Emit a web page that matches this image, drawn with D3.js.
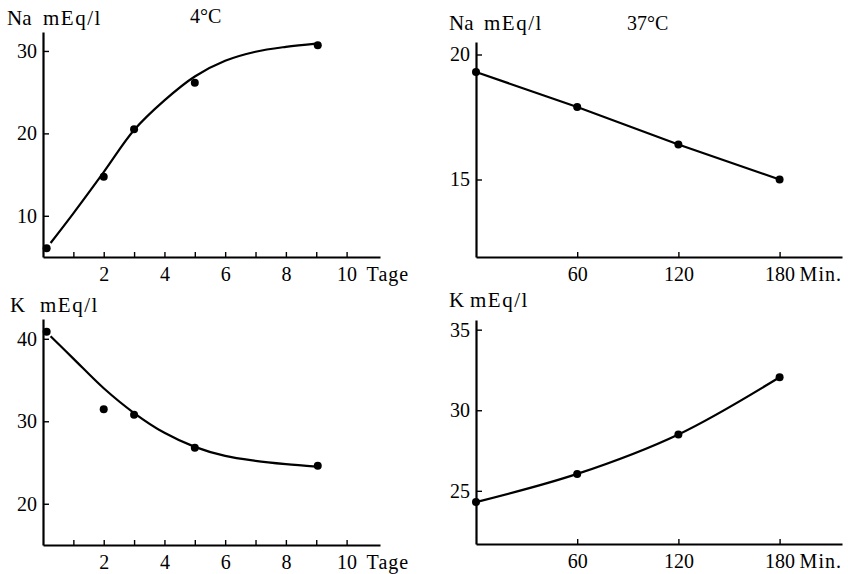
<!DOCTYPE html>
<html>
<head>
<meta charset="utf-8">
<script src="https://cdn.jsdelivr.net/npm/d3@7"></script>
<style>
  body { margin: 0; background: #fff; }
  svg { display: block; }
  text { fill: #000; }
</style>
</head>
<body>
<svg class="chart"></svg>
<script>
// Na / K in mEq/l: 4°C over days (left), 37°C over minutes (right)

const days = [0.12, 2, 3, 5, 9.05];
const naCold = [6.05, 14.75, 20.5, 26.15, 30.7];
const kCold = [40.85, 31.45, 30.8, 26.8, 24.6];

// hand-drawn smoothing curves
const fitDays = [0.25, 1, 2, 3, 4, 5, 6, 7, 8, 9];
const naColdFit = [6.7, 10.3, 15.3, 20.4, 24.0, 26.9, 28.8, 29.9, 30.5, 30.9];
const kColdFit = [40.3, 37.6, 34.0, 31.0, 28.6, 26.9, 25.8, 25.2, 24.8, 24.5];

const minutes = [0, 60, 120, 180];
const naWarm = [19.3, 17.9, 16.4, 15.0];
const kWarm = [24.3, 26.05, 28.5, 32.05];

const dayTicks = [1, 2, 3, 4, 5, 6, 7, 8, 9, 10];
const minuteTicks = [60, 120, 180];
const naColdTicks = [10, 20, 30];
const kColdTicks = [20, 30, 40];
const naWarmTicks = [15, 20];
const kWarmTicks = [25, 30, 35];

const font = '"Liberation Serif", "Times New Roman", Tinos, "DejaVu Serif", serif';

const width = 848,
  height = 574;

const svg = d3
  .select(".chart")
  .attr("width", width)
  .attr("height", height)
  .attr("font-family", font);

svg
  .append("rect")
  .attr("width", width)
  .attr("height", height)
  .attr("fill", "#fff");

const panels = [
  {
    ion: "Na", ionX: 7, unitX: 43, labelY: 25,
    title: "4°C", titleX: 190, titleY: 23,
    xDomain: [0, 11.1], xRange: [43, 380], xTicks: dayTicks, xUnit: "Tage",
    yDomain: [5, 32.3], yRange: [257, 32], yTicks: naColdTicks,
    px: days, py: naCold, cx: fitDays, cy: naColdFit,
    curve: d3.curveCatmullRom
  },
  {
    ion: "Na", ionX: 449, unitX: 484, labelY: 30,
    title: "37°C", titleX: 627, titleY: 30,
    xDomain: [0, 217], xRange: [476, 842], xTicks: minuteTicks, xUnit: "Min.",
    yDomain: [11.9, 20.5], yRange: [257, 42], yTicks: naWarmTicks,
    px: minutes, py: naWarm, cx: minutes, cy: naWarm,
    curve: d3.curveLinear
  },
  {
    ion: "K", ionX: 10, unitX: 40, labelY: 312,
    xDomain: [0, 11.1], xRange: [43, 380], xTicks: dayTicks, xUnit: "Tage",
    yDomain: [15, 42.4], yRange: [545, 319], yTicks: kColdTicks,
    px: days, py: kCold, cx: fitDays, cy: kColdFit,
    curve: d3.curveCatmullRom
  },
  {
    ion: "K", ionX: 449, unitX: 470, labelY: 307,
    xDomain: [0, 217], xRange: [476, 842], xTicks: minuteTicks, xUnit: "Min.",
    yDomain: [21.7, 35.6], yRange: [544, 320], yTicks: kWarmTicks,
    px: minutes, py: kWarm, cx: minutes, cy: kWarm,
    curve: d3.curveCatmullRom
  }
];

panels.forEach(function(p) {
  const x = d3.scaleLinear().domain(p.xDomain).range(p.xRange);
  const y = d3.scaleLinear().domain(p.yDomain).range(p.yRange);
  const g = svg.append("g");

  const xAxis = g
    .append("g")
    .attr("transform", "translate(0," + p.yRange[0] + ")")
    .call(
      d3
        .axisBottom(x)
        .tickValues(p.xTicks)
        .tickSizeInner(-5)
        .tickSizeOuter(0)
        .tickPadding(10)
        .tickFormat(function(d) {
          return p.xTicks.length > 3 && d % 2 !== 0 ? "" : d;
        })
    );

  const yAxis = g
    .append("g")
    .attr("transform", "translate(" + p.xRange[0] + ",0)")
    .call(
      d3
        .axisLeft(y)
        .tickValues(p.yTicks)
        .tickSizeInner(-6)
        .tickSizeOuter(0)
        .tickPadding(6)
    );

  [xAxis, yAxis].forEach(function(a) {
    a.attr("font-family", font).attr("font-size", 20);
    a.select(".domain").attr("stroke-width", 2.2);
    a.selectAll(".tick line").attr("stroke-width", 1.4);
  });

  // unit after the last x tick label
  const lastTick = p.xTicks[p.xTicks.length - 1];
  g.append("text")
    .attr("x", x(lastTick) + 20)
    .attr("y", p.yRange[0] + 10)
    .attr("dy", "0.71em")
    .attr("font-size", 20)
    .attr("letter-spacing", 1)
    .text(p.xUnit);

  // y label
  g.append("text")
    .attr("x", p.ionX)
    .attr("y", p.labelY)
    .attr("font-size", 21)
    .text(p.ion);
  g.append("text")
    .attr("x", p.unitX)
    .attr("y", p.labelY)
    .attr("font-size", 21)
    .attr("letter-spacing", 1.5)
    .text("mEq/l");

  if (p.title) {
    g.append("text")
      .attr("x", p.titleX)
      .attr("y", p.titleY)
      .attr("font-size", 20)
      .text(p.title);
  }

  const line = d3
    .line()
    .x(function(d) {
      return x(d[0]);
    })
    .y(function(d) {
      return y(d[1]);
    })
    .curve(p.curve);

  g.append("path")
    .datum(d3.zip(p.cx, p.cy))
    .attr("fill", "none")
    .attr("stroke", "#000")
    .attr("stroke-width", 2.2)
    .attr("d", line);

  g.selectAll("circle")
    .data(d3.zip(p.px, p.py))
    .enter()
    .append("circle")
    .attr("cx", function(d) {
      return x(d[0]);
    })
    .attr("cy", function(d) {
      return y(d[1]);
    })
    .attr("r", 4)
    .attr("fill", "#000");
});
</script>
</body>
</html>
